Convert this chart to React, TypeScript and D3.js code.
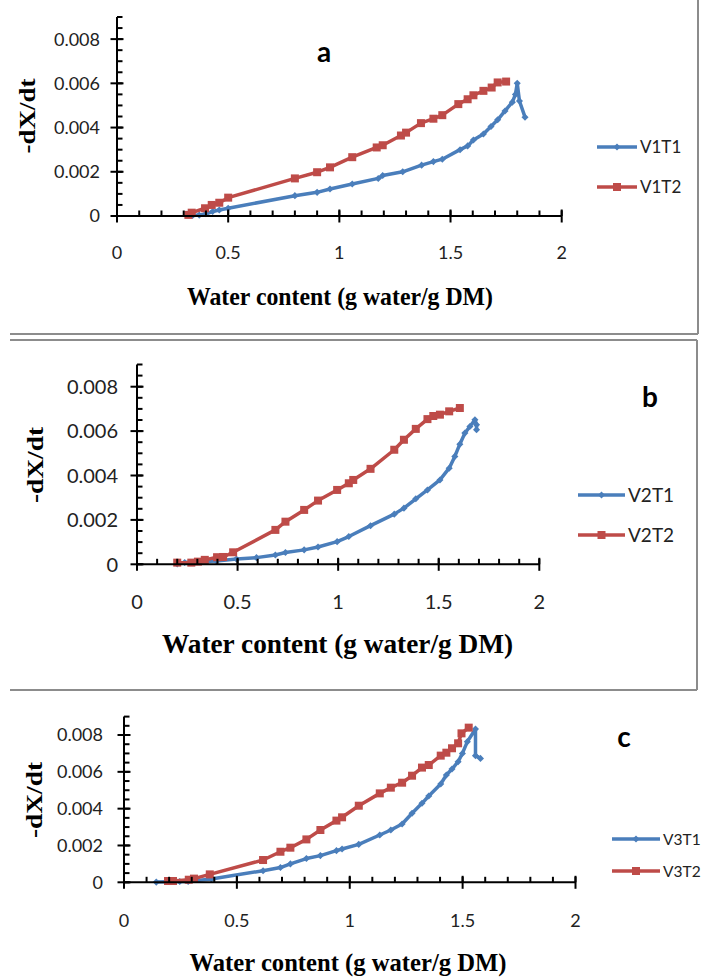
import * as d3 from "d3"

// ---- data ----
const xTicks = [0, 0.5, 1, 1.5, 2]
const xTickLabels = ["0", "0.5", "1", "1.5", "2"]
const yTicks = [0, 0.002, 0.004, 0.006, 0.008]
const yTickLabels = ["0", "0.002", "0.004", "0.006", "0.008"]
const xMinor = d3.range(0, 2.0001, 0.1)
const yMinor = d3.range(0, 0.00901, 0.0005)

const V1T1: [number, number][] = [
  [0.34, 0.00002], [0.37, 0.00004], [0.40, 0.0001], [0.43, 0.0002], [0.46, 0.00027],
  [0.50, 0.00035], [0.80, 0.00092], [0.90, 0.00107], [0.958, 0.00122], [1.058, 0.00145],
  [1.175, 0.0017], [1.195, 0.00183], [1.285, 0.002], [1.37, 0.0023], [1.423, 0.00246],
  [1.463, 0.00257], [1.543, 0.003], [1.577, 0.00317], [1.603, 0.00344], [1.648, 0.00371],
  [1.682, 0.00405], [1.712, 0.00435], [1.745, 0.00475], [1.778, 0.00515], [1.792, 0.0055],
  [1.80, 0.006], [1.81, 0.0052], [1.835, 0.00447],
]
const V1T2: [number, number][] = [
  [0.321, 0.00005], [0.336, 0.00015], [0.396, 0.00035], [0.426, 0.0005], [0.46, 0.0006],
  [0.50, 0.00083], [0.80, 0.0017], [0.90, 0.00198], [0.958, 0.0022], [1.058, 0.00266],
  [1.168, 0.0031], [1.195, 0.0032], [1.277, 0.00364], [1.30, 0.00377], [1.367, 0.0042],
  [1.423, 0.0044], [1.463, 0.00456], [1.535, 0.00506], [1.577, 0.00528], [1.603, 0.00546],
  [1.648, 0.00566], [1.685, 0.00581], [1.712, 0.00604], [1.75, 0.00608],
]
const V2T1: [number, number][] = [
  [0.20, 0.00002], [0.237, 0.00008], [0.30, 0.00012], [0.395, 0.00015], [0.494, 0.00024],
  [0.594, 0.0003], [0.688, 0.00042], [0.738, 0.00053], [0.831, 0.00065], [0.90, 0.00078],
  [0.995, 0.00102], [1.053, 0.00125], [1.161, 0.00174], [1.279, 0.00226], [1.327, 0.00253],
  [1.386, 0.00295], [1.444, 0.00335], [1.506, 0.0038], [1.552, 0.00433], [1.58, 0.00486],
  [1.605, 0.00541], [1.63, 0.00591], [1.655, 0.00621], [1.68, 0.00651], [1.688, 0.00629],
  [1.688, 0.00606],
]
const V2T2: [number, number][] = [
  [0.20, 0.000075], [0.27, 0.000075], [0.303, 0.00012], [0.337, 0.0002], [0.398, 0.00032],
  [0.428, 0.00033], [0.478, 0.00054], [0.688, 0.00155], [0.738, 0.00192], [0.831, 0.00245],
  [0.90, 0.00287], [0.995, 0.00335], [1.053, 0.00365], [1.075, 0.0038], [1.161, 0.0043],
  [1.279, 0.00516], [1.327, 0.00561], [1.386, 0.0061], [1.444, 0.00654], [1.473, 0.00668],
  [1.506, 0.00674], [1.552, 0.00689], [1.605, 0.00704],
]
const V3T1: [number, number][] = [
  [0.143, 0.00001], [0.247, 0.00004], [0.284, 0.00004], [0.387, 0.00018], [0.616, 0.00063],
  [0.693, 0.0008], [0.737, 0.001], [0.808, 0.00129], [0.87, 0.00145], [0.941, 0.00172],
  [0.966, 0.00181], [1.04, 0.00206], [1.133, 0.00257], [1.182, 0.00284], [1.232, 0.00317],
  [1.276, 0.00375], [1.32, 0.00429], [1.35, 0.00469], [1.403, 0.00534], [1.428, 0.00583],
  [1.453, 0.00615], [1.48, 0.00655], [1.499, 0.007], [1.521, 0.00764], [1.557, 0.00833],
  [1.557, 0.00688], [1.579, 0.00673],
]
const V3T2: [number, number][] = [
  [0.195, 0.00007], [0.217, 0.00007], [0.287, 0.00014], [0.31, 0.0002], [0.38, 0.00043],
  [0.616, 0.00121], [0.693, 0.00166], [0.737, 0.00188], [0.808, 0.00233], [0.87, 0.00284],
  [0.941, 0.00335], [0.966, 0.00353], [1.04, 0.00416], [1.133, 0.00483], [1.182, 0.00514],
  [1.232, 0.00541], [1.276, 0.00579], [1.32, 0.00623], [1.35, 0.00637], [1.403, 0.00688],
  [1.428, 0.00704], [1.453, 0.00728], [1.48, 0.00755], [1.495, 0.00809], [1.527, 0.0084],
]

const BLUE = "#4a7ebb"
const RED = "#be4b48"
const SANS = "Lato, 'Open Sans', sans-serif"
const SERIF = "'Liberation Serif', 'Times New Roman', serif"

// panel layouts
const panels = [
  {
    letter: "a", s1: V1T1, s2: V1T2, names: ["V1T1", "V1T2"],
    xl: 117, xr: 561.7, yb: 216, yt: 17, tickFs: 18, yLabGap: 17, xLabDy: 42.5,
    title: { x: 340, y: 305, fs: 26, len: 306 },
    ytitle: { x: 35, y: 116, fs: 23, len: 75 },
    letterPos: { x: 324, y: 62 },
    legend: { x1: 597, x2: 637, y1: 147, y2: 187, fs: 17 },
  },
  {
    letter: "b", s1: V2T1, s2: V2T2, names: ["V2T1", "V2T2"],
    xl: 137, xr: 539.3, yb: 564.3, yt: 364.5, tickFs: 20, yLabGap: 19, xLabDy: 45,
    title: { x: 337.5, y: 653, fs: 27, len: 351 },
    ytitle: { x: 43, y: 465, fs: 23, len: 76 },
    letterPos: { x: 650, y: 407 },
    legend: { x1: 578, x2: 625, y1: 495, y2: 535, fs: 19 },
  },
  {
    letter: "c", s1: V3T1, s2: V3T2, names: ["V3T1", "V3T2"],
    xl: 124, xr: 575.5, yb: 882.3, yt: 716.6, tickFs: 18, yLabGap: 21, xLabDy: 44.5,
    title: { x: 348, y: 971, fs: 25, len: 317 },
    ytitle: { x: 42, y: 800, fs: 23, len: 76 },
    letterPos: { x: 624, y: 747 },
    legend: { x1: 612, x2: 660, y1: 839, y2: 871, fs: 15.5 },
  },
]

function Diamond({ x, y, c }: { x: number; y: number; c: string }) {
  return <rect x={x - 2.5} y={y - 2.5} width={5} height={5} fill={c}
    transform={`rotate(45 ${x} ${y})`} />
}
function Square({ x, y, c }: { x: number; y: number; c: string }) {
  return <rect x={x - 4} y={y - 4} width={8} height={8} fill={c} />
}

function Panel({ p }: { p: typeof panels[number] }) {
  const x = d3.scaleLinear().domain([0, 2]).range([p.xl, p.xr])
  const y = d3.scaleLinear().domain([0, 0.009]).range([p.yb, p.yt])
  const line = d3.line<[number, number]>().x(d => x(d[0])).y(d => y(d[1]))
  const lg = p.legend
  const lmid = (lg.x1 + lg.x2) / 2
  return (
    <g>
      {/* series */}
      <path d={line(p.s1) || ""} fill="none" stroke={BLUE} strokeWidth={3.5} strokeLinejoin="round" />
      {p.s1.map((d, i) => <Diamond key={"d" + i} x={x(d[0])} y={y(d[1])} c={BLUE} />)}
      <path d={line(p.s2) || ""} fill="none" stroke={RED} strokeWidth={3.5} strokeLinejoin="round" />
      {p.s2.map((d, i) => <Square key={"s" + i} x={x(d[0])} y={y(d[1])} c={RED} />)}

      {/* axes */}
      <line x1={x(0)} x2={x(2)} y1={y(0)} y2={y(0)} stroke="#000" strokeWidth={2} />
      <line x1={x(0)} x2={x(0)} y1={y(0)} y2={y(0.009)} stroke="#000" strokeWidth={2} />
      {xMinor.map((t, i) => (
        <line key={"xm" + i} x1={x(t)} x2={x(t)} y1={y(0) - 5.5} y2={y(0)} stroke="#000" strokeWidth={2} />
      ))}
      {yMinor.map((t, i) => (
        <line key={"ym" + i} x1={x(0)} x2={x(0) + 5.5} y1={y(t)} y2={y(t)} stroke="#000" strokeWidth={2} />
      ))}
      {xTicks.map((t, i) => (
        <g key={"xt" + i}>
          <line x1={x(t)} x2={x(t)} y1={y(0) - 6.5} y2={y(0) + 6.5} stroke="#000" strokeWidth={2} />
          <text x={x(t)} y={y(0) + p.xLabDy} textAnchor="middle" fontFamily={SANS}
            fontSize={p.tickFs} fill="#222">{xTickLabels[i]}</text>
        </g>
      ))}
      {yTicks.map((t, i) => (
        <g key={"yt" + i}>
          <line x1={x(0) - 6.5} x2={x(0) + 6.5} y1={y(t)} y2={y(t)} stroke="#000" strokeWidth={2} />
          <text x={x(0) - p.yLabGap} y={y(t) + p.tickFs * 0.36} textAnchor="end" fontFamily={SANS}
            fontSize={p.tickFs} fill="#222">{yTickLabels[i]}</text>
        </g>
      ))}

      {/* titles */}
      <text x={p.title.x} y={p.title.y} textAnchor="middle" fontFamily={SERIF} fontWeight="bold"
        fontSize={p.title.fs} textLength={p.title.len} lengthAdjust="spacingAndGlyphs">
        Water content (g water/g DM)
      </text>
      <text transform={`translate(${p.ytitle.x},${p.ytitle.y}) rotate(-90)`} textAnchor="middle"
        fontFamily={SERIF} fontWeight="bold" fontSize={p.ytitle.fs} textLength={p.ytitle.len}
        lengthAdjust="spacingAndGlyphs">-dX/dt</text>
      <text x={p.letterPos.x} y={p.letterPos.y} textAnchor="middle" fontFamily={SANS}
        fontWeight="bold" fontSize={28}>{p.letter}</text>

      {/* legend */}
      <line x1={lg.x1} x2={lg.x2} y1={lg.y1} y2={lg.y1} stroke={BLUE} strokeWidth={3.5} />
      <Diamond x={lmid} y={lg.y1} c={BLUE} />
      <text x={lg.x2 + 3} y={lg.y1 + lg.fs * 0.36} fontFamily={SANS} fontSize={lg.fs} fill="#222">{p.names[0]}</text>
      <line x1={lg.x1} x2={lg.x2} y1={lg.y2} y2={lg.y2} stroke={RED} strokeWidth={3.5} />
      <Square x={lmid} y={lg.y2} c={RED} />
      <text x={lg.x2 + 3} y={lg.y2 + lg.fs * 0.36} fontFamily={SANS} fontSize={lg.fs} fill="#222">{p.names[1]}</text>
    </g>
  )
}

export default function App() {
  const border = "#8c8c8c"
  return (
    <svg width={701} height={978} style={{ position: "absolute", left: 0, top: 0, background: "#fff" }}>
      <rect width={701} height={978} fill="#fff" />
      {/* frame lines of the pasted chart boxes */}
      <line x1={10} x2={698} y1={334} y2={334} stroke={border} strokeWidth={2} />
      <line x1={698} x2={698} y1={0} y2={334} stroke={border} strokeWidth={2} />
      <line x1={10} x2={697} y1={340} y2={340} stroke={border} strokeWidth={2} />
      <line x1={10} x2={697} y1={690} y2={690} stroke={border} strokeWidth={2} />
      <line x1={697} x2={697} y1={340} y2={690} stroke={border} strokeWidth={2} />
      {panels.map(p => <Panel key={p.letter} p={p} />)}
    </svg>
  )
}
